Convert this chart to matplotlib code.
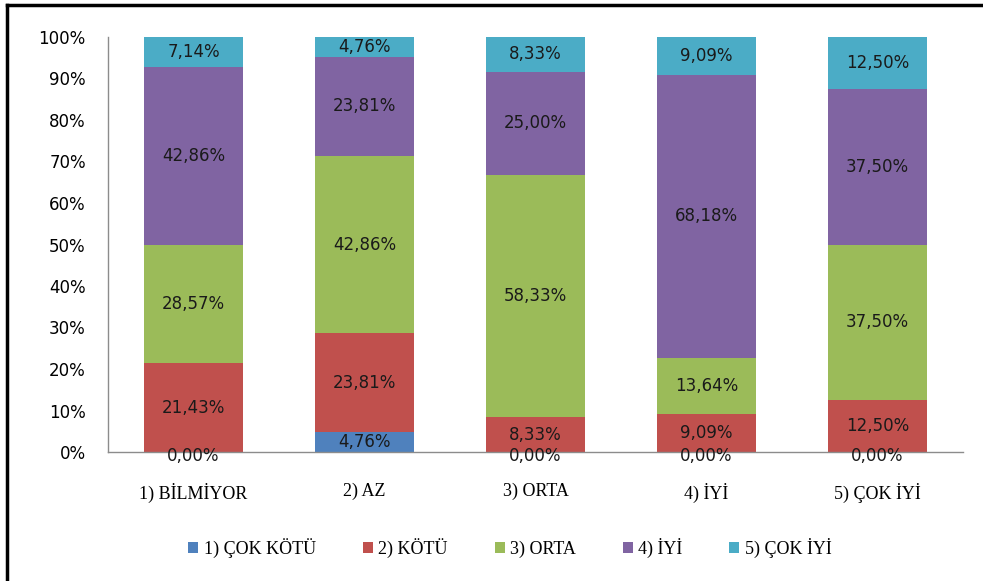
import matplotlib
matplotlib.use("Agg")
import matplotlib.pyplot as plt
import numpy as np
from matplotlib.lines import Line2D

categories = ["1) BİLMİYOR", "2) AZ", "3) ORTA", "4) İYİ", "5) ÇOK İYİ"]
series_names = ["1) ÇOK KÖTÜ", "2) KÖTÜ", "3) ORTA", "4) İYİ", "5) ÇOK İYİ"]
cok_kotu = [0.00, 4.76, 0.00, 0.00, 0.00]
kotu = [21.43, 23.81, 8.33, 9.09, 12.50]
orta = [28.57, 42.86, 58.33, 13.64, 37.50]
iyi = [42.86, 23.81, 25.00, 68.18, 37.50]
cok_iyi = [7.14, 4.76, 8.33, 9.09, 12.50]
colors = ["#4F81BD", "#C0504D", "#9BBB59", "#8064A2", "#4BACC6"]

series = [cok_kotu, kotu, orta, iyi, cok_iyi]

fig = plt.figure(figsize=(9.83, 5.81), dpi=100)
ax = fig.add_axes([108/983, 129/581, 855/983, 415/581])

x = np.arange(len(categories))
bottom = np.zeros(len(categories))
for name, vals, col in zip(series_names, series, colors):
    vals = np.array(vals)
    ax.bar(x, vals, 0.575, bottom=bottom, color=col, label=name, linewidth=0)
    for xi, b, v in zip(x, bottom, vals):
        y = b + v / 2
        if v == 0:
            y = b - 1.0
        ax.text(xi, y, f"{v:.2f}%".replace(".", ","), ha="center", va="center",
                fontsize=12, family="DejaVu Sans", color="#1a1a1a")
    bottom += vals

ax.set_xlim(-0.5, 4.5)
ax.set_ylim(0, 100)
ax.set_yticks(range(0, 101, 10))
ax.set_yticklabels([f"{v}%" for v in range(0, 101, 10)], fontsize=12, family="DejaVu Sans")
ax.set_xticks(x)
ax.set_xticklabels(categories, fontsize=13, family="Liberation Serif")
ax.tick_params(axis="y", length=0, pad=16)
ax.tick_params(axis="x", length=0, pad=22)
for s in ["top", "right"]:
    ax.spines[s].set_visible(False)
for s in ["left", "bottom"]:
    ax.spines[s].set_color("#8c8c8c")
    ax.spines[s].set_linewidth(1)

leg = fig.legend(loc="center", bbox_to_anchor=(510/983, 1 - 548/581), ncol=5, frameon=False,
                 prop={"family": "Liberation Serif", "size": 13},
                 handlelength=0.55, handleheight=0.55, handletextpad=0.3, columnspacing=2.6)

# outer frame lines (top and left)
fig.add_artist(Line2D([7/983, 1], [1 - 5/581, 1 - 5/581], color="black", lw=2.5, transform=fig.transFigure))
fig.add_artist(Line2D([7/983, 7/983], [0, 1 - 5/581], color="black", lw=2.5, transform=fig.transFigure))

fig.savefig("out.png", dpi=100)
